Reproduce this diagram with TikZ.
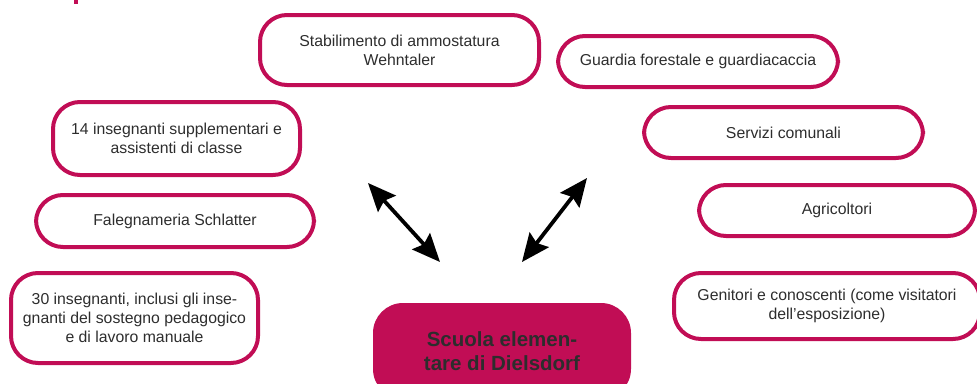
\documentclass[tikz,border=0pt]{standalone}
\usepackage{fontspec}
\setmainfont{Liberation Sans}
\usetikzlibrary{arrows.meta}
\definecolor{dielsrot}{RGB}{193,13,85}
\definecolor{textgrey}{RGB}{45,45,45}

\begin{document}
\begin{tikzpicture}[x=1pt, y=-1pt,
  partner/.style={draw=dielsrot, line width=4pt, rounded corners=27pt, align=center,
    text=textgrey, inner sep=0pt, font=\fontsize{15.8}{19}\selectfont},
  school/.style={fill=dielsrot, rounded corners=30pt, align=center, text=textgrey,
    inner sep=0pt, font=\fontsize{20.5}{24.5}\selectfont\bfseries},
  link/.style={line width=3.8pt, {Stealth[length=28pt,width=24pt,inset=4pt]}-{Stealth[length=28pt,width=24pt,inset=4pt]}}]
  \useasboundingbox (0,0) rectangle (977,383);

  % Title remnant
  \fill[dielsrot] (74,0) rectangle (78,4);

  % Partners, left side
  \node[partner, minimum width=279pt, minimum height=70pt] (ammostatura) at (399.5,50)
    {Stabilimento di ammostatura\\Wehntaler};
  \node[partner, minimum width=247pt, minimum height=73pt] (aiuti) at (176.5,138.5)
    {14 insegnanti supplementari e\\assistenti di classe};
  \node[partner, minimum width=278pt, minimum height=52pt] (falegnameria) at (175,221)
    {Falegnameria Schlatter};
  \node[partner, minimum width=247pt, minimum height=90pt] (docenti) at (134.5,318)
    {30 insegnanti, inclusi gli inse-\\gnanti del sostegno pedagogico\\e di lavoro manuale};

  % Partners, right side
  \node[partner, minimum width=280pt, minimum height=51pt] (guardia) at (698,61.5)
    {Guardia forestale e guardiacaccia};
  \node[partner, minimum width=279pt, minimum height=51pt] (servizi) at (783.5,132.5)
    {Servizi comunali};
  \node[partner, minimum width=276pt, minimum height=51pt] (agricoltori) at (837,210.5)
    {Agricoltori};
  \node[partner, minimum width=306pt, minimum height=66pt] (genitori) at (827,306)
    {Genitori e conoscenti (come visitatori\\dell’esposizione)};

  % School
  \node[school, minimum width=258pt, minimum height=96pt] (scuola) at (502,351)
    {Scuola elemen-\\tare di Dielsdorf};

  % Exchange arrows
  \coordinate (linksoben) at (368,183);
  \coordinate (linksunten) at (440,262);
  \coordinate (rechtsoben) at (587,178);
  \coordinate (rechtsunten) at (522,262);
  \draw[link] (linksoben) -- (linksunten);
  \draw[link] (rechtsoben) -- (rechtsunten);
\end{tikzpicture}
\end{document}
